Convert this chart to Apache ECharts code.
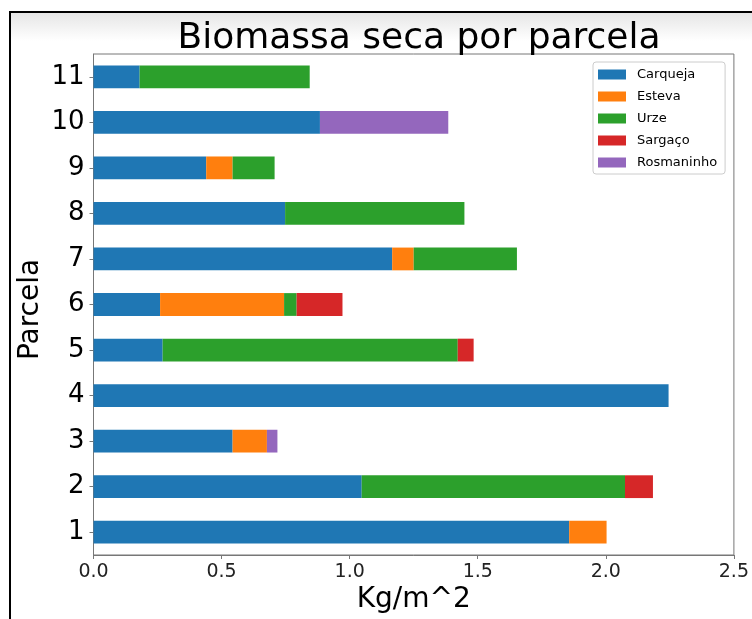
<!DOCTYPE html>
<html><head><meta charset="utf-8">
<script src="https://cdn.jsdelivr.net/npm/echarts@6/dist/echarts.min.js"></script>
<style>html,body{margin:0;padding:0;background:#fff}#c{width:752px;height:619px}</style>
</head><body><div id="c"></div>
<script>
const categories = ['1','2','3','4','5','6','7','8','9','10','11'];
const seriesNames = ['Carqueja','Esteva','Urze','Sargaço','Rosmaninho'];
const carqueja   = [1.857, 1.047, 0.543, 2.245, 0.270, 0.260, 1.166, 0.748, 0.440, 0.884, 0.180];
const esteva     = [0.146, 0,     0.134, 0,     0,     0.484, 0.084, 0,     0.103, 0,     0];
const urze       = [0,     1.028, 0,     0,     1.152, 0.049, 0.403, 0.700, 0.164, 0,     0.664];
const sargaco    = [0,     0.109, 0,     0,     0.062, 0.179, 0,     0,     0,     0,     0];
const rosmaninho = [0,     0,     0.041, 0,     0,     0,     0,     0,     0,     0.501, 0];
const xTicks = ['0.0','0.5','1.0','1.5','2.0','2.5'];
const colors = ['#1f77b4','#ff7f0e','#2ca02c','#d62728','#9467bd'];
const values = [carqueja, esteva, urze, sargaco, rosmaninho];

const font = 'DejaVu Sans';
const chart = echarts.init(document.getElementById('c'), null, {renderer:'canvas'});
chart.setOption({
  animation:false,
  textStyle:{fontFamily:font},
  graphic:[
    {type:'rect', z:-10, shape:{x:10,y:13,width:760,height:28},
     style:{fill:new echarts.graphic.LinearGradient(0,0,0,1,[{offset:0,color:'#e6e6e6'},{offset:1,color:'#ffffff'}])}},
    {type:'rect', z:-5, shape:{x:10,y:12,width:800,height:700}, style:{fill:null,stroke:'#000',lineWidth:2}}
  ],
  title:{text:'Biomassa seca por parcela', left:414, textAlign:'center', top:16,
    textStyle:{fontFamily:font,fontSize:36,fontWeight:'normal',color:'#000'}},
  legend:{orient:'vertical', left:593, top:62, data:seriesNames,
    backgroundColor:'#fff', borderColor:'#ccc', borderWidth:1, borderRadius:3,
    padding:[6,8,5,5], itemWidth:28, itemHeight:10, itemGap:9, icon:'rect',
    textStyle:{fontFamily:font,fontSize:13,color:'#000',padding:[0,0,0,6]}},
  grid:{left:93.5, right:15.5, top:54, bottom:63, show:true, borderColor:'#777', borderWidth:1, containLabel:false},
  xAxis:{type:'value', min:0, max:2.5, interval:0.5,
    name:'Kg/m^2', nameLocation:'middle', nameGap:31, nameMoveOverlap:false,
    nameTextStyle:{fontFamily:font,fontSize:28,color:'#000'},
    axisLine:{show:true,lineStyle:{color:'#777'}},
    axisTick:{show:true,length:4,lineStyle:{color:'#777'}},
    splitLine:{show:false},
    axisLabel:{fontFamily:font,fontSize:19,color:'#222',margin:8,
      formatter:(v)=>xTicks[Math.round(v/0.5)]}},
  yAxis:{type:'category', data:categories,
    name:'Parcela', nameLocation:'middle', nameGap:49, nameRotate:90, nameMoveOverlap:false,
    nameTextStyle:{fontFamily:font,fontSize:28,color:'#000',padding:[0,10,0,0]},
    axisLine:{show:true,lineStyle:{color:'#777'}},
    axisTick:{show:true,alignWithLabel:true,length:4,lineStyle:{color:'#777'}},
    axisLabel:{fontFamily:font,fontSize:26,color:'#000',margin:9},
    splitLine:{show:false}},
  series: seriesNames.map((n,i)=>({name:n, type:'bar', stack:'total', barWidth:'50%',
    itemStyle:{color:colors[i]}, data:values[i]}))
});
</script></body></html>
